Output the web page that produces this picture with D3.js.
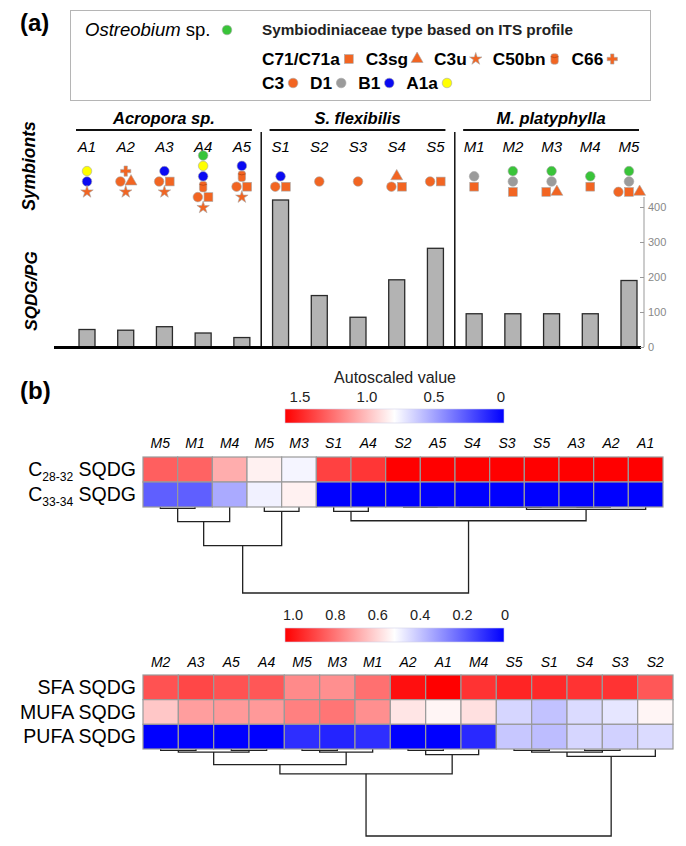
<!DOCTYPE html>
<html>
<head>
<meta charset="utf-8">
<script src="https://cdn.jsdelivr.net/npm/d3@7"></script>
<style>
  body { margin: 0; background: #fff; }
  svg { display: block; font-family: "Liberation Sans", Arial, sans-serif; }
</style>
</head>
<body>
<div id="chart"></div>
<script>
const width = 686;
const height = 846;

// ---------- panel (a) data ----------
const samples = ["A1", "A2", "A3", "A4", "A5", "S1", "S2", "S3", "S4", "S5", "M1", "M2", "M3", "M4", "M5"];
const sqdgPg = [50, 48, 58, 40, 27, 420, 147, 85, 192, 282, 95, 95, 95, 95, 190];
const axisTicks = [0, 100, 200, 300, 400];
const speciesNames = ["Acropora sp.", "S. flexibilis", "M. platyphylla"];
const speciesPrefix = ["A", "S", "M"];

// symbiont symbols stacked per sample, top row first
const symbionts = [
    [["A1a"], ["B1"], ["C3u"]],
    [["C66"], ["C3", "C3sg"], ["C3u"]],
    [["B1"], ["C3", "C71"], ["C3u"]],
    [["Ost"], ["A1a"], ["B1"], ["C50bn"], ["C3", "C71"], ["C3u"]],
    [["B1"], ["C50bn"], ["C3", "C71"], ["C3u"]],
    [["B1"], ["C3", "C71"]],
    [["C3"]],
    [["C3"]],
    [["C3sg"], ["C3", "C71"]],
    [["C3", "C71"]],
    [["D1"], ["C71"]],
    [["Ost"], ["D1"], ["C71"]],
    [["Ost"], ["D1"], ["C71", "C3sg"]],
    [["Ost"], ["C71"]],
    [["Ost"], ["D1"], ["C3", "C71", "C3sg"]]
];

const legendRow2 = ["C71", "C3sg", "C3u", "C50bn", "C66"];
const legendRow3 = ["C3", "D1", "B1", "A1a"];
const legendLabel = { C71: "C71/C71a", C3sg: "C3sg", C3u: "C3u", C50bn: "C50bn", C66: "C66",
                      C3: "C3", D1: "D1", B1: "B1", A1a: "A1a" };

const orange = "#f26522";
const symbolStyle = {
    Ost:   { shape: "circle",   color: "#39c439" },
    C71:   { shape: "square",   color: orange },
    C3sg:  { shape: "triangle", color: orange },
    C3u:   { shape: "star",     color: orange },
    C50bn: { shape: "cylinder", color: orange },
    C66:   { shape: "cross",    color: orange },
    C3:    { shape: "circle",   color: orange },
    D1:    { shape: "circle",   color: "#9b9b9b" },
    B1:    { shape: "circle",   color: "#0a0af2" },
    A1a:   { shape: "circle",   color: "#ffff00" }
};

// ---------- panel (b) data ----------
const hm1Cols = ["M5", "M1", "M4", "M5", "M3", "S1", "A4", "S2", "A5", "S4", "S3", "S5", "A3", "A2", "A1"];
const hm1Rows = ["C_28-32_ SQDG", "C_33-34_ SQDG"];
const hm1C2832 = [1.22, 1.21, 0.99, 0.79, 0.72, 1.31, 1.34, 1.5, 1.5, 1.5, 1.5, 1.5, 1.5, 1.5, 1.5];
const hm1C3334 = [0.28, 0.28, 0.5, 0.71, 0.79, 0, 0, 0, 0, 0, 0, 0, 0, 0, 0];
const hm1Legend = [1.5, 1.0, 0.5, 0];
// dendrogram: [left, right, height], leaves are column indexes
const hm1Tree = [
    [[[0, 1, 1.7], 2, 17], [3, 4, 5], 45],
    [[5, 6, 5], [[[[7, 8, 0], [9, [10, 11, 0], 0], 0], [12, 13, 0], 0], 14, 2.7], 16],
    100
];

const hm2Cols = ["M2", "A3", "A5", "A4", "M5", "M3", "M1", "A2", "A1", "M4", "S5", "S1", "S4", "S3", "S2"];
const hm2Rows = ["SFA SQDG", "MUFA SQDG", "PUFA SQDG"];
const hm2Sfa  = [0.84, 0.86, 0.84, 0.83, 0.73, 0.72, 0.78, 0.97, 1.0, 0.9, 0.93, 0.92, 0.9, 0.9, 0.83];
const hm2Mufa = [0.61, 0.69, 0.7, 0.7, 0.75, 0.77, 0.72, 0.55, 0.52, 0.56, 0.42, 0.38, 0.43, 0.45, 0.52];
const hm2Pufa = [0, 0, 0, 0, 0.09, 0.07, 0.09, 0, 0, 0.08, 0.39, 0.37, 0.42, 0.41, 0.43];
const hm2Legend = [1.0, 0.8, 0.6, 0.4, 0.2, 0];
const hm2Tree = [
    [[[[0, 1, 1.5], [2, 3, 1.5], 3.5], [[4, 5, 1.5], 6, 3.5], 18], [[7, 8, 1.5], 9, 6.5], 28.5],
    [[[10, 11, 1.5], [12, 13, 1.5], 3.5], 14, 8.5],
    100
];

const svg = d3.select("#chart")
    .append("svg")
    .attr("width", width)
    .attr("height", height);

function drawSymbol(g, type, x, y) {
    const st = symbolStyle[type];
    const s = g.append("g").attr("transform", `translate(${x},${y})`);
    const paint = el => el.attr("fill", st.color).attr("stroke", "#a8a8a8").attr("stroke-width", 0.6);
    if (st.shape === "circle") paint(s.append("circle").attr("r", 4.8));
    else if (st.shape === "square") paint(s.append("rect").attr("x", -4.4).attr("y", -4.4).attr("width", 8.8).attr("height", 8.8));
    else if (st.shape === "triangle") paint(s.append("path").attr("d", d3.symbol(d3.symbolTriangle, 62)()));
    else if (st.shape === "star") paint(s.append("path").attr("d", d3.symbol(d3.symbolStar, 48)()));
    else if (st.shape === "cross") paint(s.append("path").attr("d", d3.symbol(d3.symbolCross, 58)()));
    else if (st.shape === "cylinder") {
        paint(s.append("rect").attr("x", -3.7).attr("y", -5.2).attr("width", 7.4).attr("height", 10.4).attr("rx", 2.4));
        s.append("path").attr("d", "M-3.7,-2.4Q0,-0.4 3.7,-2.4")
            .attr("fill", "none").attr("stroke", "#b04010").attr("stroke-width", 0.7);
    }
}

// ---------- panel (a) ----------
svg.append("text").attr("x", 20).attr("y", 31)
    .attr("font-size", 24).attr("font-weight", "bold").text("(a)");

// legend box
const legend = svg.append("g");
legend.append("rect").attr("x", 70.5).attr("y", 10.5).attr("width", 580).attr("height", 90)
    .attr("fill", "none").attr("stroke", "#b5b5b5");

const ost = legend.append("text").attr("x", 85).attr("y", 36).attr("font-size", 18.5);
ost.append("tspan").attr("font-style", "italic").text("Ostreobium");
ost.append("tspan").text(" sp.");
drawSymbol(legend, "Ost", 227, 30);

legend.append("text").attr("x", 262).attr("y", 35)
    .attr("font-size", 15.3).attr("font-weight", "bold").attr("fill", "#222")
    .text("Symbiodiniaceae type based on ITS profile");

function legendRow(keys, y) {
    let x = 262;
    keys.forEach(k => {
        const t = legend.append("text").attr("x", x).attr("y", y)
            .attr("font-size", 17.3).attr("font-weight", "bold").text(legendLabel[k]);
        const w = t.node().getComputedTextLength();
        drawSymbol(legend, k, x + w + 9, y - 6);
        x += w + 26;
    });
}
legendRow(legendRow2, 65);
legendRow(legendRow3, 89);

// sample scale
const x = d3.scalePoint().domain(samples).range([87, 629]);
const y = d3.scaleLinear().domain([0, 400]).range([347, 207]);

// species headers
speciesNames.forEach((name, i) => {
    const members = samples.filter(s => s[0] === speciesPrefix[i]);
    const x0 = x(members[0]) - 11;
    const x1 = x(members[members.length - 1]) + 10;
    svg.append("line").attr("x1", x0).attr("x2", x1).attr("y1", 130).attr("y2", 130)
        .attr("stroke", "#111").attr("stroke-width", 2.2);
    svg.append("text").attr("x", (x0 + x1) / 2).attr("y", 124)
        .attr("text-anchor", "middle").attr("font-size", 16.5)
        .attr("font-weight", "bold").attr("font-style", "italic").text(name);
    if (i > 0) {
        const prev = samples.filter(s => s[0] === speciesPrefix[i - 1]);
        const sx = (x(prev[prev.length - 1]) + x(members[0])) / 2;
        svg.append("line").attr("x1", sx).attr("x2", sx).attr("y1", 132).attr("y2", 347)
            .attr("stroke", "#111").attr("stroke-width", 1.5);
    }
});

// sample labels
svg.selectAll(".sample-label")
    .data(samples)
    .enter()
    .append("text")
    .attr("class", "sample-label")
    .attr("x", d => x(d))
    .attr("y", 152)
    .attr("text-anchor", "middle")
    .attr("font-size", 15)
    .attr("font-style", "italic")
    .text(d => d);

// symbiont stacks
const rowGap = 10.4;
samples.forEach((s, i) => {
    const rows = symbionts[i];
    rows.forEach((row, r) => {
        const yy = 181.5 + (r - (rows.length - 1) / 2) * rowGap;
        row.forEach((type, j) => {
            drawSymbol(svg, type, x(s) + (j - (row.length - 1) / 2) * 10.6, yy);
        });
    });
});

// bars
svg.selectAll(".bar")
    .data(samples)
    .enter()
    .append("rect")
    .attr("class", "bar")
    .attr("x", d => x(d) - 8)
    .attr("y", (d, i) => y(sqdgPg[i]))
    .attr("width", 16)
    .attr("height", (d, i) => y(0) - y(sqdgPg[i]))
    .attr("fill", "#b3b3b3")
    .attr("stroke", "#2a2a2a")
    .attr("stroke-width", 1.3);

svg.append("line").attr("x1", 54).attr("x2", 641).attr("y1", 347.5).attr("y2", 347.5)
    .attr("stroke", "#000").attr("stroke-width", 3);

const yAxis = svg.append("g")
    .attr("transform", "translate(644,0)")
    .call(d3.axisRight(y).tickValues(axisTicks).tickSize(-4).tickPadding(4));
yAxis.select(".domain").attr("stroke", "#999").attr("d", "M0,347V197");
yAxis.selectAll(".tick line").attr("stroke", "#999");
yAxis.selectAll(".tick text").attr("fill", "#888").attr("font-size", 11)
    .attr("font-family", "Liberation Sans, Arial, sans-serif");

svg.append("text").attr("transform", "translate(35,166) rotate(-90)")
    .attr("text-anchor", "middle").attr("font-size", 17.5)
    .attr("font-weight", "bold").attr("font-style", "italic").text("Symbionts");
svg.append("text").attr("transform", "translate(37,291) rotate(-90)")
    .attr("text-anchor", "middle").attr("font-size", 17)
    .attr("font-weight", "bold").attr("font-style", "italic").text("SQDG/PG");

// ---------- panel (b) ----------
svg.append("text").attr("x", 20).attr("y", 399)
    .attr("font-size", 24).attr("font-weight", "bold").text("(b)");

function colorBar(id, color, ticks, domainMax, cfg) {
    const grad = svg.append("defs").append("linearGradient").attr("id", id)
        .attr("x1", "0%").attr("x2", "100%");
    d3.range(0, 1.0001, 0.1).forEach(t => {
        grad.append("stop").attr("offset", `${t * 100}%`)
            .attr("stop-color", color(domainMax * (1 - t)));
    });
    svg.append("rect").attr("x", 285).attr("y", cfg.barY).attr("width", 219).attr("height", 14)
        .attr("fill", `url(#${id})`).attr("stroke", "#d0d0e8").attr("stroke-width", 0.6);
    const lx = d3.scaleLinear().domain([domainMax, 0]).range(cfg.labelRange);
    svg.selectAll(`.lbl-${id}`)
        .data(ticks)
        .enter()
        .append("text")
        .attr("x", d => lx(d))
        .attr("y", cfg.labelY)
        .attr("text-anchor", "middle")
        .attr("font-size", cfg.fontSize)
        .attr("fill", "#222")
        .text(d => d === 0 ? "0" : d.toFixed(1));
}

function drawHeatmap(cfg) {
    const hx = d3.scaleBand().domain(d3.range(cfg.cols.length)).range([cfg.x0, cfg.x1]);
    const hy = d3.scaleBand().domain(d3.range(cfg.rows.length)).range([cfg.y0, cfg.y1]);
    const g = svg.append("g");

    // dendrogram first, so zero-height joins hide under the cell borders
    const dy = d3.scaleLinear().domain([0, 100]).range([cfg.y1, cfg.y1 + cfg.treeHeight]);
    const segs = [];
    function walk(node) {
        if (typeof node === "number") return { x: hx(node) + hx.bandwidth() / 2, h: 0 };
        const a = walk(node[0]);
        const b = walk(node[1]);
        segs.push(`M${a.x},${dy(a.h)}V${dy(node[2])}H${b.x}V${dy(b.h)}`);
        return { x: (a.x + b.x) / 2, h: node[2] };
    }
    walk(cfg.tree);
    g.selectAll(".link")
        .data(segs)
        .enter()
        .append("path")
        .attr("class", "link")
        .attr("d", d => d)
        .attr("fill", "none")
        .attr("stroke", "#222")
        .attr("stroke-width", 1.3);

    const cells = [];
    cfg.values.forEach((row, r) => row.forEach((v, c) => cells.push({ r, c, v })));
    g.selectAll(".cell")
        .data(cells)
        .enter()
        .append("rect")
        .attr("class", "cell")
        .attr("x", d => hx(d.c))
        .attr("y", d => hy(d.r))
        .attr("width", hx.bandwidth())
        .attr("height", hy.bandwidth())
        .attr("fill", d => cfg.color(d.v))
        .attr("stroke", "#9a9a9a")
        .attr("stroke-width", 1.2);

    g.selectAll(".col-label")
        .data(cfg.cols)
        .enter()
        .append("text")
        .attr("class", "col-label")
        .attr("x", (d, i) => hx(i) + hx.bandwidth() / 2)
        .attr("y", cfg.colLabelY)
        .attr("text-anchor", "middle")
        .attr("font-size", 14)
        .attr("font-style", "italic")
        .text(d => d);

    cfg.rows.forEach((label, r) => {
        const t = g.append("text").attr("x", 136).attr("y", hy(r) + hy.bandwidth() / 2 + 6.5)
            .attr("text-anchor", "end").attr("font-size", cfg.rowFont);
        const parts = label.split("_");
        if (parts.length === 3) {
            t.append("tspan").text(parts[0]);
            t.append("tspan").attr("font-size", cfg.rowFont * 0.62).attr("dy", 5).text(parts[1]);
            t.append("tspan").attr("dy", -5).text(parts[2]);
        } else {
            t.text(label);
        }
    });
}

const color1 = d3.scaleLinear().domain([0, 0.75, 1.5]).range(["#0000ff", "#ffffff", "#ff0000"]);
const color2 = d3.scaleLinear().domain([0, 0.5, 1]).range(["#0000ff", "#ffffff", "#ff0000"]);

svg.append("text").attr("x", 395).attr("y", 383).attr("text-anchor", "middle")
    .attr("font-size", 16).attr("fill", "#222").text("Autoscaled value");
colorBar("grad1", color1, hm1Legend, 1.5, { barY: 409, labelY: 402, labelRange: [300, 501], fontSize: 15 });
colorBar("grad2", color2, hm2Legend, 1.0, { barY: 628, labelY: 620, labelRange: [293, 505], fontSize: 14.5 });

drawHeatmap({
    cols: hm1Cols, rows: hm1Rows, values: [hm1C2832, hm1C3334], color: color1,
    x0: 143, x1: 663, y0: 457, y1: 507, colLabelY: 448, rowFont: 19.5,
    tree: hm1Tree, treeHeight: 86
});

drawHeatmap({
    cols: hm2Cols, rows: hm2Rows, values: [hm2Sfa, hm2Mufa, hm2Pufa], color: color2,
    x0: 143, x1: 673, y0: 675, y1: 749, colLabelY: 667, rowFont: 19.5,
    tree: hm2Tree, treeHeight: 87
});
</script>
</body>
</html>
